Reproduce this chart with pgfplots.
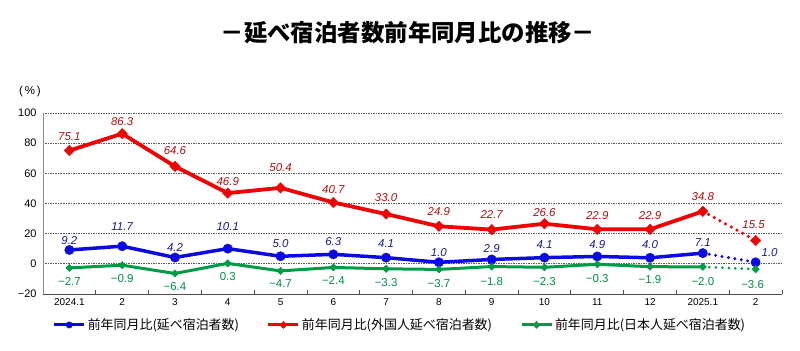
\documentclass[border=0pt]{standalone}
\usepackage{fontspec}
\setmainfont{Liberation Sans}
\newfontfamily\jp{Noto Sans CJK JP}
\usepackage{pgfplots}
\usepackage{pgfplotstable}
\pgfplotsset{compat=1.18}

\definecolor{cBlue}{RGB}{10,10,225}
\definecolor{cBlueL}{RGB}{25,25,140}
\definecolor{cRed}{RGB}{235,5,5}
\definecolor{cRedL}{RGB}{175,15,15}
\definecolor{cGreen}{RGB}{0,155,70}
\definecolor{cGreenL}{RGB}{0,140,65}

\pgfplotstableread{
x y dy dx lab
0 9.2 9 0 9.2
1 11.7 20 0 11.7
2 4.2 10 0 4.2
3 10.1 22 0 10.1
4 5.0 13 0 5.0
5 6.3 13 0 6.3
6 4.1 14 0 4.1
7 1.0 10 0 1.0
8 2.9 11 0 2.9
9 4.1 13 0 4.1
10 4.9 12 0 4.9
11 4.0 13 0 4.0
12 7.1 11 0 7.1
13 1.0 10 14 1.0
}\blueT

\pgfplotstableread{
x y dy dx lab
0 75.1 14 0 75.1
1 86.3 12 0 86.3
2 64.6 15.5 0 64.6
3 46.9 11.7 0 46.9
4 50.4 20.5 0 50.4
5 40.7 13.3 0 40.7
6 33.0 16.3 0 33.0
7 24.9 15 0 24.9
8 22.7 14.7 0 22.7
9 26.6 11.3 0 26.6
10 22.9 13.3 0 22.9
11 22.9 13.3 0 22.9
12 34.8 14.3 0 34.8
13 15.5 16 -2 15.5
}\redT

\pgfplotstableread{
x y dy dx lab
0 -2.7 -14 0 −2.7
1 -0.9 -13.3 0 −0.9
2 -6.4 -13.3 0 −6.4
3 0.3 -13.3 0 0.3
4 -4.7 -12.3 0 −4.7
5 -2.4 -13.3 0 −2.4
6 -3.3 -13.3 0 −3.3
7 -3.7 -14 0 −3.7
8 -1.8 -15 0 −1.8
9 -2.3 -14 0 −2.3
10 -0.3 -14 0 −0.3
11 -1.9 -12.7 0 −1.9
12 -2.0 -14.3 0 −2.0
13 -3.6 -15.7 -3 −3.6
}\greenT

\begin{document}
\begin{tikzpicture}
\useasboundingbox (0,0) rectangle (800bp,351bp);
\node[font=\jp\bfseries\fontsize{23.5}{28}\selectfont] at (408bp,318bp) {－延べ宿泊者数前年同月比の推移－};
\node[font=\fontsize{11.5}{14}\selectfont] at (30bp,259bp) {(\,\%\,)};
\begin{axis}[
  at={(43bp,57bp)}, anchor=south west,
  scale only axis, width=739bp, height=181bp,
  xmin=-0.5, xmax=13.5, ymin=-20, ymax=100,
  axis x line=bottom, axis y line=left, axis line style={-},
  x axis line style={black!70, line width=0.8bp},
  y axis line style={black!45, line width=0.8bp},
  xtick={0,...,13},
  xticklabels={2024.1,2,3,4,5,6,7,8,9,10,11,12,2025.1,2},
  major tick length=0pt,
  minor xtick={0.5,1.5,...,13.5},
  minor tick length=4bp,
  tick align=inside,
  minor tick style={black!70, line width=0.8bp},
  ytick={-20,0,20,40,60,80,100},
  yticklabels={−20,0,20,40,60,80,100},
  ymajorgrids,
  major grid style={black!65, dash pattern=on 1.5bp off 1bp, line width=0.7bp},
  xticklabel style={font=\fontsize{10}{12}\selectfont, yshift=-1bp},
  yticklabel style={font=\fontsize{11}{13}\selectfont, xshift=-3bp},
  clip=false,
  legend columns=3,
  legend style={at={(0.483,-0.171)}, anchor=center, draw=none, fill=none,
    font=\jp\fontsize{13}{15}\selectfont, inner sep=0pt,
    /tikz/every even column/.append style={column sep=26bp}},
]
% lines
\addplot[cGreen, line width=3bp, no marks, restrict x to domain=0:12, forget plot] table[x=x,y=y]{\greenT};
\addplot[cGreen, line width=3bp, no marks, line cap=round, dash pattern=on 0bp off 6.5bp, restrict x to domain=12:13, forget plot] table[x=x,y=y]{\greenT};
\addplot[cBlue, line width=3.5bp, no marks, restrict x to domain=0:12, forget plot] table[x=x,y=y]{\blueT};
\addplot[cBlue, line width=3.3bp, no marks, line cap=round, dash pattern=on 0bp off 6.5bp, restrict x to domain=12:13, forget plot] table[x=x,y=y]{\blueT};
\addplot[cRed, line width=3.8bp, no marks, restrict x to domain=0:12, forget plot] table[x=x,y=y]{\redT};
\addplot[cRed, line width=3.5bp, no marks, line cap=round, dash pattern=on 0bp off 6.5bp, restrict x to domain=12:13, forget plot] table[x=x,y=y]{\redT};
% marks + labels
\addplot[only marks, mark=*, mark size=4.7bp, color=cBlue,
  visualization depends on={\thisrow{dy} \as \dy},
  visualization depends on={\thisrow{dx} \as \dx},
  nodes near coords, point meta=explicit symbolic,
  nodes near coords style={anchor=center, xshift=\dx bp, yshift=\dy bp,
    font=\itshape\fontsize{11.5}{13}\selectfont, text=cBlueL},
  legend image code/.code={\draw[cBlue, line width=3bp] (0bp,0bp) -- (30bp,0bp); \fill[cBlue] (15bp,0bp) circle (3.2bp);}]
  table[x=x,y=y,meta=lab]{\blueT};
\addlegendentry{前年同月比(延べ宿泊者数)}
\addplot[only marks, mark=square*, mark size=3.7bp, mark options={rotate=45}, color=cRed,
  visualization depends on={\thisrow{dy} \as \dy},
  visualization depends on={\thisrow{dx} \as \dx},
  nodes near coords, point meta=explicit symbolic,
  nodes near coords style={anchor=center, xshift=\dx bp, yshift=\dy bp,
    font=\itshape\fontsize{11.5}{13}\selectfont, text=cRedL},
  legend image code/.code={\draw[cRed, line width=3bp] (0bp,0bp) -- (30bp,0bp); \fill[cRed] (15bp,3.5bp) -- (18.5bp,0bp) -- (15bp,-3.5bp) -- (11.5bp,0bp) -- cycle;}]
  table[x=x,y=y,meta=lab]{\redT};
\addlegendentry{前年同月比(外国人延べ宿泊者数)}
\addplot[only marks, mark=square*, mark size=2.6bp, mark options={rotate=45}, color=cGreen,
  visualization depends on={\thisrow{dy} \as \dy},
  visualization depends on={\thisrow{dx} \as \dx},
  nodes near coords, point meta=explicit symbolic,
  nodes near coords style={anchor=center, xshift=\dx bp, yshift=\dy bp,
    font=\fontsize{11.5}{13}\selectfont, text=cGreenL},
  legend image code/.code={\draw[cGreen, line width=3bp] (0bp,0bp) -- (30bp,0bp); \fill[cGreen] (15bp,3.5bp) -- (18.5bp,0bp) -- (15bp,-3.5bp) -- (11.5bp,0bp) -- cycle;}]
  table[x=x,y=y,meta=lab]{\greenT};
\addlegendentry{前年同月比(日本人延べ宿泊者数)}
\end{axis}
\end{tikzpicture}
\end{document}
